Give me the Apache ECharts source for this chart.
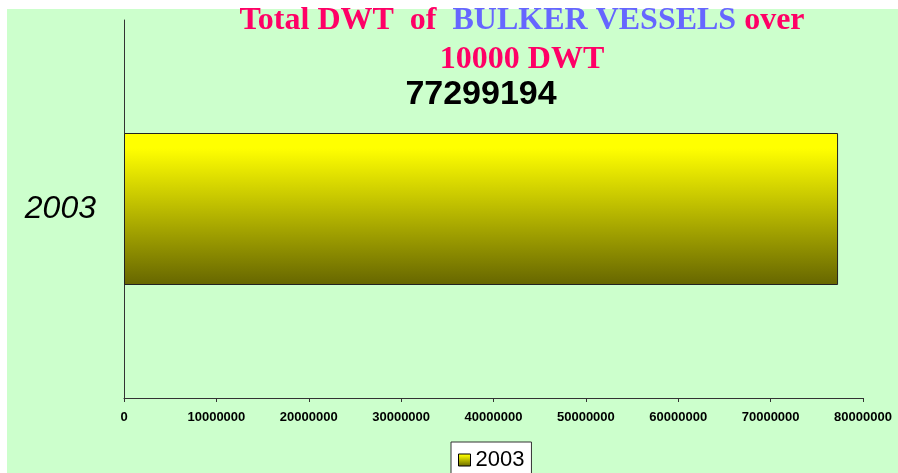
<!DOCTYPE html>
<html>
<head>
<meta charset="utf-8">
<title>Total DWT of BULKER VESSELS over 10000 DWT</title>
<script src="https://cdn.jsdelivr.net/npm/echarts@6/dist/echarts.min.js"></script>
<style>
  html, body { margin: 0; padding: 0; background: #fff; }
  #main { width: 898px; height: 473px; }
</style>
</head>
<body>
<div id="main"></div>
<script>
// data
var years = ['2003'];
var dwtTotals = [77299194];
var axisMax = 80000000;
var axisStep = 10000000;

var chart = echarts.init(document.getElementById('main'));

var barFill = new echarts.graphic.LinearGradient(0, 0, 0, 1, [
  { offset: 0, color: '#FFFF00' },
  { offset: 0.1, color: '#FFFF00' },
  { offset: 1, color: '#666600' }
]);

var option = {
  backgroundColor: '#fff',
  animation: false,
  graphic: [{
    type: 'rect',
    z: -100,
    silent: true,
    shape: { x: 7, y: 9, width: 891, height: 464 },
    style: { fill: '#CCFFCC' }
  }],
  title: {
    text: '{r|Total DWT  of  }{b|BULKER VESSELS}{r| over}\n{r|10000 DWT}',
    left: 522,
    top: 1,
    padding: 0,
    textAlign: 'center',
    textStyle: {
      fontFamily: "'Liberation Serif', 'Times New Roman', serif",
      fontWeight: 'bold',
      fontSize: 32,
      lineHeight: 39,
      rich: {
        r: { color: '#FF0066', fontFamily: "'Liberation Serif', 'Times New Roman', serif", fontWeight: 'bold', fontSize: 32, lineHeight: 39 },
        b: { color: '#6666FF', fontFamily: "'Liberation Serif', 'Times New Roman', serif", fontWeight: 'bold', fontSize: 32, lineHeight: 39 }
      }
    }
  },
  legend: {
    data: years,
    left: 451,
    top: 442,
    orient: 'horizontal',
    backgroundColor: '#fff',
    borderColor: '#333',
    borderWidth: 1,
    borderRadius: 0,
    padding: [7, 7, 7, 7],
    icon: 'rect',
    itemWidth: 12,
    itemHeight: 12,
    itemStyle: { borderColor: '#000', borderWidth: 1 },
    textStyle: { fontFamily: "'Liberation Sans', Arial, sans-serif", fontSize: 22, color: '#000' }
  },
  grid: {
    left: 124,
    right: 35,
    top: 20,
    bottom: 75,
    containLabel: false
  },
  xAxis: {
    type: 'value',
    min: 0,
    max: axisMax,
    interval: axisStep,
    axisLine: { show: true, lineStyle: { color: '#333', width: 1 } },
    axisTick: { show: true, length: 4, lineStyle: { color: '#333' } },
    splitLine: { show: false },
    axisLabel: {
      margin: 13,
      color: '#000',
      fontFamily: "'Liberation Sans', Arial, sans-serif",
      fontWeight: 'bold',
      fontSize: 13,
      formatter: function (v) { return String(v); }
    }
  },
  yAxis: {
    type: 'category',
    data: years,
    axisLine: { show: true, lineStyle: { color: '#333', width: 1 } },
    axisTick: { show: false },
    axisLabel: {
      margin: 28,
      color: '#000',
      fontFamily: "'Liberation Sans', Arial, sans-serif",
      fontStyle: 'italic',
      fontSize: 32
    }
  },
  series: [{
    name: '2003',
    type: 'bar',
    data: dwtTotals,
    barWidth: 152,
    itemStyle: {
      color: barFill,
      borderColor: '#222',
      borderWidth: 1
    },
    label: {
      show: true,
      position: 'top',
      distance: 21,
      color: '#000',
      fontFamily: "'Liberation Sans', Arial, sans-serif",
      fontWeight: 'bold',
      fontSize: 34
    }
  }]
};

chart.setOption(option);
</script>
</body>
</html>
